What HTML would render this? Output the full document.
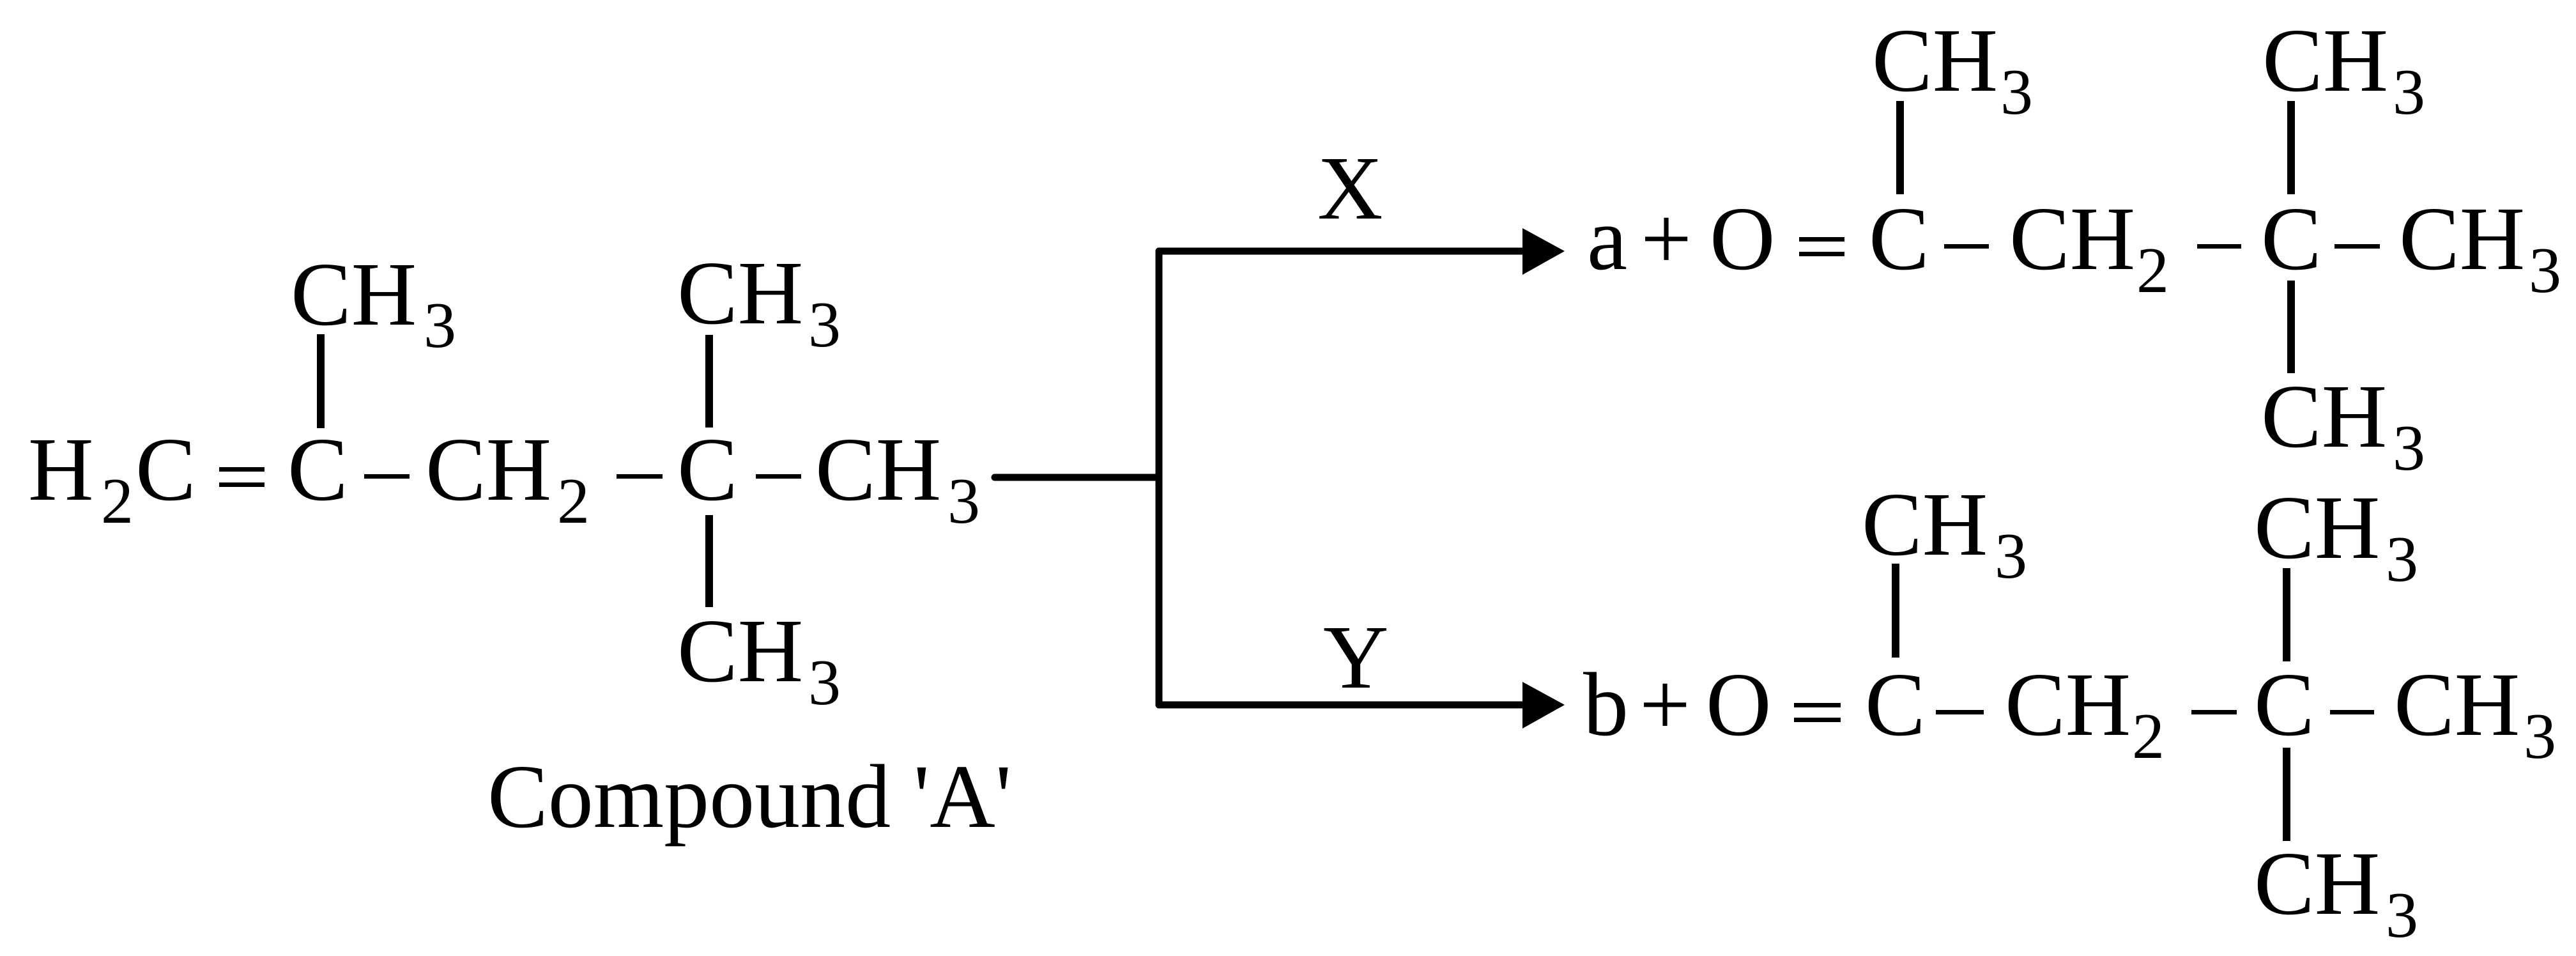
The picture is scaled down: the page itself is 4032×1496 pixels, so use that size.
<!DOCTYPE html>
<html><head><meta charset="utf-8"><style>
html,body{margin:0;padding:0;background:#fff;}
svg{display:block;}
text{font-family:"Liberation Serif",serif;fill:#000;}
.m{font-size:142px;}
.s{font-size:102px;}
</style></head><body>
<svg width="4032" height="1496" viewBox="0 0 4032 1496" xmlns="http://www.w3.org/2000/svg">
<rect width="4032" height="1496" fill="#fff"/>
<!-- Left molecule -->
<text class="m" x="44" y="782">H</text>
<text class="s" x="158" y="818">2</text>
<text class="m" x="212" y="782">C</text>
<rect x="343" y="731" width="71" height="7"/>
<rect x="343" y="755" width="71" height="7"/>
<text class="m" x="450" y="782">C</text>
<rect x="496" y="523" width="12" height="147"/>
<text class="m" x="455" y="508">CH</text>
<text class="s" x="663" y="543">3</text>
<rect x="570" y="742" width="71" height="7"/>
<text class="m" x="666" y="782">CH</text>
<text class="s" x="872" y="818">2</text>
<rect x="965" y="742" width="72" height="7"/>
<text class="m" x="1060" y="782">C</text>
<rect x="1104" y="524" width="12" height="145"/>
<rect x="1104" y="806" width="12" height="144"/>
<text class="m" x="1060" y="506">CH</text>
<text class="s" x="1265" y="542">3</text>
<rect x="1183" y="742" width="71" height="7"/>
<text class="m" x="1276" y="782">CH</text>
<text class="s" x="1483" y="818">3</text>
<text class="m" x="1060" y="1066">CH</text>
<text class="s" x="1265" y="1102">3</text>
<text class="m" x="763" y="1294">Compound 'A'</text>

<!-- Connectors -->
<line x1="1557" y1="747" x2="1814" y2="747" stroke="#000" stroke-width="11" stroke-linecap="round"/>
<line x1="1814" y1="393" x2="1814" y2="1103" stroke="#000" stroke-width="11" stroke-linecap="round"/>
<line x1="1814" y1="393" x2="2390" y2="393" stroke="#000" stroke-width="11" stroke-linecap="round"/>
<line x1="1814" y1="1103" x2="2390" y2="1103" stroke="#000" stroke-width="11" stroke-linecap="round"/>
<polygon points="2383,357 2449,393 2383,430" fill="#000"/>
<polygon points="2383,1067 2449,1103 2383,1140" fill="#000"/>
<text class="m" x="2062" y="342">X</text>
<text class="m" x="2071" y="1076">Y</text>

<!-- Top product -->
<text class="m" x="2484" y="421">a</text>
<text class="m" x="2568" y="421">+</text>
<text class="m" x="2676" y="421">O</text>
<rect x="2816" y="371" width="71" height="7"/>
<rect x="2816" y="394" width="71" height="7"/>
<text class="m" x="2925" y="421">C</text>
<rect x="2968" y="158" width="12" height="146"/>
<text class="m" x="2930" y="142">CH</text>
<text class="s" x="3131" y="178">3</text>
<rect x="3043" y="382" width="70" height="7"/>
<text class="m" x="3145" y="421">CH</text>
<text class="s" x="3344" y="457">2</text>
<rect x="3439" y="382" width="69" height="7"/>
<text class="m" x="3539" y="421">C</text>
<rect x="3580" y="158" width="12" height="146"/>
<rect x="3580" y="439" width="12" height="145"/>
<text class="m" x="3541" y="142">CH</text>
<text class="s" x="3745" y="178">3</text>
<rect x="3654" y="382" width="71" height="7"/>
<text class="m" x="3755" y="421">CH</text>
<text class="s" x="3958" y="457">3</text>
<text class="m" x="3539" y="699">CH</text>
<text class="s" x="3745" y="735">3</text>

<!-- Bottom product -->
<text class="m" x="2478" y="1150">b</text>
<text class="m" x="2566" y="1150">+</text>
<text class="m" x="2670" y="1150">O</text>
<rect x="2808" y="1100" width="73" height="7"/>
<rect x="2808" y="1123" width="73" height="7"/>
<text class="m" x="2919" y="1150">C</text>
<rect x="2961" y="882" width="12" height="147"/>
<text class="m" x="2914" y="868">CH</text>
<text class="s" x="3122" y="904">3</text>
<rect x="3030" y="1111" width="75" height="7"/>
<text class="m" x="3138" y="1150">CH</text>
<text class="s" x="3337" y="1186">2</text>
<rect x="3430" y="1111" width="71" height="7"/>
<text class="m" x="3528" y="1150">C</text>
<rect x="3573" y="889" width="12" height="146"/>
<rect x="3573" y="1170" width="12" height="146"/>
<text class="m" x="3528" y="873">CH</text>
<text class="s" x="3734" y="909">3</text>
<rect x="3647" y="1111" width="69" height="7"/>
<text class="m" x="3747" y="1150">CH</text>
<text class="s" x="3950" y="1186">3</text>
<text class="m" x="3528" y="1430">CH</text>
<text class="s" x="3734" y="1466">3</text>
</svg>
</body></html>
